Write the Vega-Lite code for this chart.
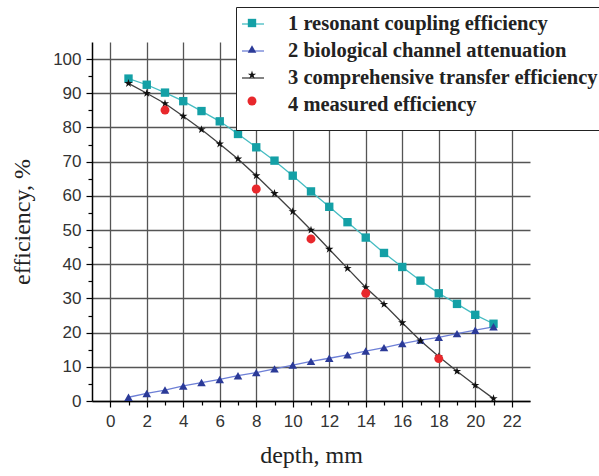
{
  "$schema": "https://vega.github.io/schema/vega-lite/v6.json",
  "width": 438,
  "height": 359,
  "autosize": {"type": "none"},
  "padding": {"left": 92, "top": 42, "right": 69, "bottom": 75},
  "background": "white",
  "config": {
    "view": {"stroke": null},
    "legend": {
      "orient": "none",
      "legendX": 144,
      "legendY": -35,
      "padding": 5,
      "rowPadding": 4,
      "labelFont": "Liberation Serif",
      "labelFontSize": 20.5,
      "labelFontWeight": "bold",
      "labelLimit": 600
    }
  },
  "data": {"values": [
    {"d": 1, "v": 94.3, "s": "1 resonant coupling efficiency"},
    {"d": 2, "v": 92.5, "s": "1 resonant coupling efficiency"},
    {"d": 3, "v": 90.2, "s": "1 resonant coupling efficiency"},
    {"d": 4, "v": 87.7, "s": "1 resonant coupling efficiency"},
    {"d": 5, "v": 84.8, "s": "1 resonant coupling efficiency"},
    {"d": 6, "v": 81.8, "s": "1 resonant coupling efficiency"},
    {"d": 7, "v": 78.1, "s": "1 resonant coupling efficiency"},
    {"d": 8, "v": 74.2, "s": "1 resonant coupling efficiency"},
    {"d": 9, "v": 70.3, "s": "1 resonant coupling efficiency"},
    {"d": 10, "v": 65.9, "s": "1 resonant coupling efficiency"},
    {"d": 11, "v": 61.3, "s": "1 resonant coupling efficiency"},
    {"d": 12, "v": 56.8, "s": "1 resonant coupling efficiency"},
    {"d": 13, "v": 52.3, "s": "1 resonant coupling efficiency"},
    {"d": 14, "v": 47.8, "s": "1 resonant coupling efficiency"},
    {"d": 15, "v": 43.3, "s": "1 resonant coupling efficiency"},
    {"d": 16, "v": 39.2, "s": "1 resonant coupling efficiency"},
    {"d": 17, "v": 35.2, "s": "1 resonant coupling efficiency"},
    {"d": 18, "v": 31.5, "s": "1 resonant coupling efficiency"},
    {"d": 19, "v": 28.4, "s": "1 resonant coupling efficiency"},
    {"d": 20, "v": 25.2, "s": "1 resonant coupling efficiency"},
    {"d": 21, "v": 22.6, "s": "1 resonant coupling efficiency"},
    {"d": 1, "v": 1.1, "s": "2 biological channel attenuation"},
    {"d": 2, "v": 2.2, "s": "2 biological channel attenuation"},
    {"d": 3, "v": 3.2, "s": "2 biological channel attenuation"},
    {"d": 4, "v": 4.4, "s": "2 biological channel attenuation"},
    {"d": 5, "v": 5.4, "s": "2 biological channel attenuation"},
    {"d": 6, "v": 6.3, "s": "2 biological channel attenuation"},
    {"d": 7, "v": 7.4, "s": "2 biological channel attenuation"},
    {"d": 8, "v": 8.3, "s": "2 biological channel attenuation"},
    {"d": 9, "v": 9.4, "s": "2 biological channel attenuation"},
    {"d": 10, "v": 10.5, "s": "2 biological channel attenuation"},
    {"d": 11, "v": 11.6, "s": "2 biological channel attenuation"},
    {"d": 12, "v": 12.5, "s": "2 biological channel attenuation"},
    {"d": 13, "v": 13.5, "s": "2 biological channel attenuation"},
    {"d": 14, "v": 14.6, "s": "2 biological channel attenuation"},
    {"d": 15, "v": 15.6, "s": "2 biological channel attenuation"},
    {"d": 16, "v": 16.8, "s": "2 biological channel attenuation"},
    {"d": 17, "v": 17.8, "s": "2 biological channel attenuation"},
    {"d": 18, "v": 18.6, "s": "2 biological channel attenuation"},
    {"d": 19, "v": 19.7, "s": "2 biological channel attenuation"},
    {"d": 20, "v": 20.7, "s": "2 biological channel attenuation"},
    {"d": 21, "v": 21.7, "s": "2 biological channel attenuation"},
    {"d": 1, "v": 92.9, "s": "3 comprehensive transfer efficiency"},
    {"d": 2, "v": 90.0, "s": "3 comprehensive transfer efficiency"},
    {"d": 3, "v": 87.0, "s": "3 comprehensive transfer efficiency"},
    {"d": 4, "v": 83.3, "s": "3 comprehensive transfer efficiency"},
    {"d": 5, "v": 79.4, "s": "3 comprehensive transfer efficiency"},
    {"d": 6, "v": 75.2, "s": "3 comprehensive transfer efficiency"},
    {"d": 7, "v": 70.8, "s": "3 comprehensive transfer efficiency"},
    {"d": 8, "v": 65.9, "s": "3 comprehensive transfer efficiency"},
    {"d": 9, "v": 60.7, "s": "3 comprehensive transfer efficiency"},
    {"d": 10, "v": 55.4, "s": "3 comprehensive transfer efficiency"},
    {"d": 11, "v": 50.0, "s": "3 comprehensive transfer efficiency"},
    {"d": 12, "v": 44.4, "s": "3 comprehensive transfer efficiency"},
    {"d": 13, "v": 38.8, "s": "3 comprehensive transfer efficiency"},
    {"d": 14, "v": 33.2, "s": "3 comprehensive transfer efficiency"},
    {"d": 15, "v": 28.3, "s": "3 comprehensive transfer efficiency"},
    {"d": 16, "v": 22.9, "s": "3 comprehensive transfer efficiency"},
    {"d": 17, "v": 17.6, "s": "3 comprehensive transfer efficiency"},
    {"d": 18, "v": 13.0, "s": "3 comprehensive transfer efficiency"},
    {"d": 19, "v": 8.7, "s": "3 comprehensive transfer efficiency"},
    {"d": 20, "v": 4.6, "s": "3 comprehensive transfer efficiency"},
    {"d": 21, "v": 0.7, "s": "3 comprehensive transfer efficiency"},
    {"d": 3, "v": 85.1, "s": "4 measured efficiency"},
    {"d": 8, "v": 62.0, "s": "4 measured efficiency"},
    {"d": 11, "v": 47.4, "s": "4 measured efficiency"},
    {"d": 14, "v": 31.5, "s": "4 measured efficiency"},
    {"d": 18, "v": 12.4, "s": "4 measured efficiency"}
  ]},
  "encoding": {
    "x": {
      "field": "d", "type": "quantitative",
      "scale": {"domain": [-1, 23], "nice": false, "zero": false},
      "axis": {
        "title": "depth, mm",
        "values": [0,1,2,3,4,5,6,7,8,9,10,11,12,13,14,15,16,17,18,19,20,21,22],
        "labelExpr": "datum.value % 2 == 0 ? datum.label : ''",
        "grid": true,
        "gridColor": {"condition": {"test": "datum.value % 2 == 0", "value": "#555555"}, "value": "transparent"},
        "gridWidth": 1.3,
        "domainColor": "#000000",
        "domainWidth": 1.5,
        "tickColor": "#000000",
        "tickWidth": 1.2,
        "tickSize": {"condition": {"test": "datum.value % 2 == 0", "value": 6}, "value": 4},
        "labelFont": "Liberation Sans",
        "labelFontSize": 17,
        "labelColor": "#333333",
        "labelPadding": 6,
        "labelFlush": false,
        "titleFont": "Liberation Serif",
        "titleFontSize": 24,
        "titleFontWeight": "normal",
        "titleColor": "#222222",
        "titlePadding": 14
      }
    },
    "y": {
      "field": "v", "type": "quantitative",
      "scale": {"domain": [0, 105], "nice": false},
      "axis": {
        "title": "efficiency, %",
        "values": [0,5,10,15,20,25,30,35,40,45,50,55,60,65,70,75,80,85,90,95,100],
        "labelExpr": "datum.value % 10 == 0 ? datum.label : ''",
        "grid": true,
        "gridColor": {"condition": {"test": "datum.value % 10 == 0", "value": "#555555"}, "value": "transparent"},
        "gridWidth": 1.3,
        "domainColor": "#000000",
        "domainWidth": 1.5,
        "tickColor": "#000000",
        "tickWidth": 1.2,
        "tickSize": {"condition": {"test": "datum.value % 10 == 0", "value": 6}, "value": 4},
        "labelFont": "Liberation Sans",
        "labelFontSize": 17,
        "labelColor": "#333333",
        "labelPadding": 5,
        "labelFlush": false,
        "titleFont": "Liberation Serif",
        "titleFontSize": 24,
        "titleFontWeight": "normal",
        "titleColor": "#222222",
        "titlePadding": 18
      }
    }
  },
  "layer": [
    {
      "transform": [{"filter": "datum.s != '4 measured efficiency'"}],
      "mark": {"type": "line", "strokeWidth": 1.3},
      "encoding": {
        "color": {
          "field": "s", "type": "nominal",
          "scale": {
            "domain": ["1 resonant coupling efficiency", "2 biological channel attenuation", "3 comprehensive transfer efficiency", "4 measured efficiency"],
            "range": ["#45bcc2", "#6d7fd6", "#404040", "transparent"]
          },
          "legend": {
            "title": " ",
            "titleOrient": "bottom",
            "titleFontSize": 9,
            "titlePadding": 0,
            "fillColor": "#ffffff",
            "strokeColor": "#222222",
            "symbolType": "stroke",
            "symbolSize": 484,
            "symbolStrokeWidth": 1.3,
            "symbolOffset": 0,
            "labelOffset": 23,
            "labelColor": "#222222",
            "labelFont": "Liberation Serif"
          }
        }
      }
    },
    {
      "mark": {"type": "point", "filled": true, "opacity": 1},
      "encoding": {
        "shape": {
          "field": "s", "type": "nominal",
          "scale": {
            "domain": ["1 resonant coupling efficiency", "2 biological channel attenuation", "3 comprehensive transfer efficiency", "4 measured efficiency"],
            "range": ["square", "triangle-up", "M0,-1L0.2245,-0.309L0.951,-0.309L0.363,0.118L0.588,0.809L0,0.382L-0.588,0.809L-0.363,0.118L-0.951,-0.309L-0.2245,-0.309Z", "circle"]
          },
          "legend": {
            "title": null,
            "fillColor": "transparent",
            "strokeColor": "transparent",
            "symbolSize": 50,
            "symbolOffset": 0,
            "labelColor": "transparent",
            "labelFontSize": 22
          }
        },
        "size": {
          "field": "s", "type": "nominal",
          "scale": {
            "domain": ["1 resonant coupling efficiency", "2 biological channel attenuation", "3 comprehensive transfer efficiency", "4 measured efficiency"],
            "range": [70, 80, 100, 45]
          },
          "legend": null
        },
        "color": {
          "field": "s", "type": "nominal",
          "scale": {
            "domain": ["1 resonant coupling efficiency", "2 biological channel attenuation", "3 comprehensive transfer efficiency", "4 measured efficiency"],
            "range": ["#14a0a6", "#2b3a98", "#111111", "#e8282c"]
          },
          "legend": {
            "title": null,
            "fillColor": "transparent",
            "strokeColor": "transparent",
            "symbolSize": 50,
            "symbolOffset": 0,
            "labelColor": "transparent",
            "labelFontSize": 22
          }
        }
      }
    }
  ],
  "resolve": {"scale": {"color": "independent", "shape": "independent", "size": "independent"}}
}
